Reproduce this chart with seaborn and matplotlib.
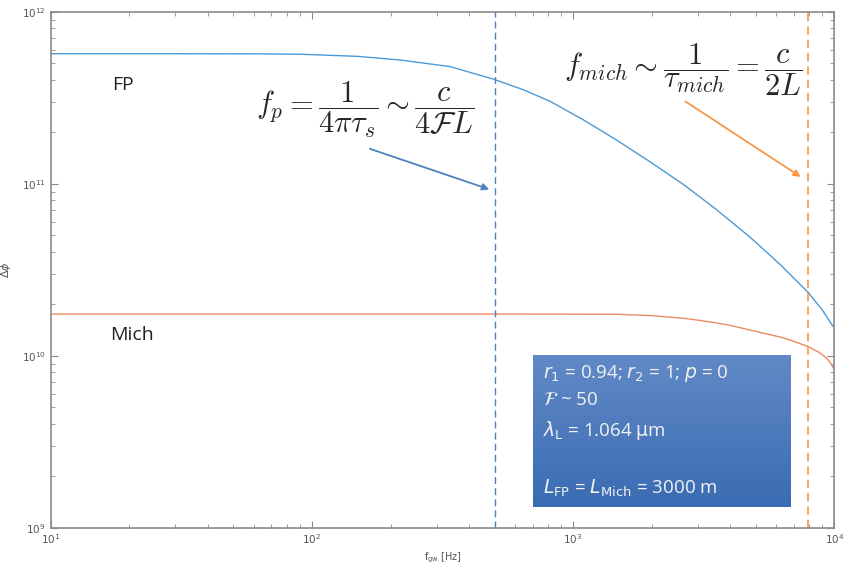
import numpy as np
import pandas as pd
import seaborn as sns
import matplotlib.pyplot as plt
from matplotlib.colors import LinearSegmentedColormap

# values (log-log)
fp_freq = [10, 30, 60, 90, 150, 217, 337, 494, 650, 817, 1100, 1470, 2000,
           2643, 3500, 4755, 6200, 7945, 9000, 10000]
fp_dphi = [5.7e11, 5.7e11, 5.69e11, 5.66e11, 5.5e11, 5.24e11, 4.80e11, 4.06e11,
           3.5e11, 3.01e11, 2.34e11, 1.79e11, 1.32e11, 9.9e10, 7.16e10,
           4.89e10, 3.39e10, 2.33e10, 1.84e10, 1.44e10]

mich_freq = [10, 100, 500, 1000, 1470, 2000, 2643, 3000, 3548, 4000, 4755,
             5500, 6380, 7000, 7945, 8700, 9340, 9700, 10000]
mich_dphi = [1.746e10, 1.746e10, 1.746e10, 1.745e10, 1.74e10, 1.71e10, 1.65e10,
             1.61e10, 1.55e10, 1.50e10, 1.41e10, 1.34e10, 1.27e10, 1.21e10,
             1.13e10, 1.05e10, 9.7e9, 9.0e9, 8.3e9]

f_pole = 500
f_mich = 7950

blue = '#4a9ad8'
orange = '#ea8a63'

df = pd.concat([
    pd.DataFrame({'f': fp_freq, 'dphi': fp_dphi, 'ifo': 'FP'}),
    pd.DataFrame({'f': mich_freq, 'dphi': mich_dphi, 'ifo': 'Mich'}),
])

sns.set_style('ticks')
plt.rcParams['font.family'] = ['DejaVu Sans']

fig = plt.figure(figsize=(8.47, 5.71), dpi=100)
ax = fig.add_axes([0.0599, 0.0758, 0.9252, 0.9037])

sns.lineplot(data=df, x='f', y='dphi', hue='ifo', palette=[blue, orange],
             linewidth=1.0, legend=False, ax=ax, sort=True)
ax.set_xscale('log')
ax.set_yscale('log')

ax.axvline(f_pole, color='#4f81bd', ls=(0, (5, 3)), lw=1.0)
ax.axvline(f_mich, color='#f79646', ls=(0, (5, 3)), lw=1.2)

for s in ax.spines.values():
    s.set_color('#8a8a8a')
    s.set_linewidth(1.2)
ax.tick_params(which='both', direction='in', top=True, right=True,
               colors='#8a8a8a', labelcolor='#555555', labelsize=7.5)
ax.tick_params(which='major', length=5)
ax.tick_params(which='minor', length=3)

ax.set_xlabel(r'f$_{\mathrm{gw}}$ [Hz]', fontsize=7, color='#555555', labelpad=3)
ax.set_ylabel(r'$\Delta\phi$', fontsize=8, color='#555555', labelpad=6)

ax.text(0.078, 0.858, 'FP', transform=ax.transAxes, fontsize=14,
        color='#222222', va='center', family='Open Sans')
ax.text(0.076, 0.373, 'Mich', transform=ax.transAxes, fontsize=14,
        color='#222222', va='center', family='Open Sans')

ax.text(0.262, 0.81, r'$f_p = \dfrac{1}{4\pi\tau_s} \sim \dfrac{c}{4\mathcal{F}L}$',
        transform=ax.transAxes, fontsize=22, va='center', math_fontfamily='cm')
ax.text(0.655, 0.888, r'$f_{mich} \sim \dfrac{1}{\tau_{mich}} = \dfrac{c}{2L}$',
        transform=ax.transAxes, fontsize=22, va='center', math_fontfamily='cm')

ax.annotate('', xy=(0.563, 0.654), xytext=(0.404, 0.736), xycoords='axes fraction',
            arrowprops=dict(arrowstyle='-|>', color='#4f81bd', lw=1.3, mutation_scale=10))
ax.annotate('', xy=(0.960, 0.677), xytext=(0.807, 0.829), xycoords='axes fraction',
            arrowprops=dict(arrowstyle='-|>', color='#f79646', lw=1.3, mutation_scale=10))

# parameter box with vertical gradient
grad = np.linspace(0, 1, 100).reshape(-1, 1)
cmap = LinearSegmentedColormap.from_list('boxblue', ['#3a6cb3', '#6189c6'])
ax.imshow(grad, extent=(0.615, 0.943, 0.040, 0.334), transform=ax.transAxes,
          cmap=cmap, aspect='auto', origin='lower', zorder=5)
box_lines = [
    (0.298, r'$r_1$ = 0.94; $r_2$ = 1; $p$ = 0'),
    (0.248, r'$\mathcal{F}$ ~ 50'),
    (0.188, r'$\lambda_\mathrm{L}$ = 1.064 $\mathrm{\mu}$m'),
    (0.076, r'$L_\mathrm{FP}$ = $L_\mathrm{Mich}$ = 3000 m'),
]
for y, t in box_lines:
    ax.text(0.628, y, t, transform=ax.transAxes, fontsize=13.5, color='#f2f2f2',
            va='center', zorder=6, family='Open Sans', math_fontfamily='dejavusans')

ax.set_xlim(10, 1e4)
ax.set_ylim(1e9, 1e12)

fig.savefig('out.png', dpi=100)
